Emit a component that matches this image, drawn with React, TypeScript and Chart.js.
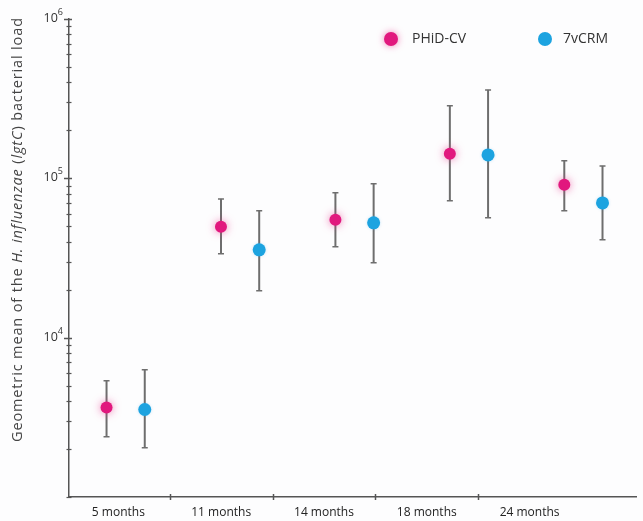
import React, { useEffect, useRef } from "react";
import { Chart, registerables } from "chart.js";

Chart.register(...registerables);

const categories = ["5 months", "11 months", "14 months", "18 months", "24 months"];
const seriesNames = ["PHiD-CV", "7vCRM"];
const seriesColors = ["#e1187e", "#1ca3e0"];

const phidMean = [3640, 49600, 54900, 142500, 91000];
const phidLow = [2390, 33600, 37200, 72300, 62500];
const phidHigh = [5370, 74300, 81100, 285000, 128800];

const crmMean = [3540, 35600, 52600, 140300, 70100];
const crmLow = [2040, 19700, 29500, 56500, 41100];
const crmHigh = [6300, 62500, 92500, 359000, 119700];

const yMajorTicks = [1e4, 1e5, 1e6];
const yMajorExponents = ["4", "5", "6"];

const FONT = "'Open Sans', 'Liberation Sans', sans-serif";
const AXIS_COLOR = "#555";

const bgPlugin = {
  id: "bg",
  beforeDraw(chart: any) {
    const ctx = chart.ctx;
    ctx.save();
    ctx.fillStyle = "#fdfdfe";
    ctx.fillRect(0, 0, chart.width, chart.height);
    ctx.restore();
  },
};

const errorBarPlugin = {
  id: "errorBars",
  beforeDatasetsDraw(chart: any) {
    const ctx = chart.ctx;
    const ys = chart.scales.y;
    ctx.save();
    ctx.strokeStyle = "#6e6e6e";
    chart.data.datasets.forEach((ds: any, di: number) => {
      const meta = chart.getDatasetMeta(di);
      meta.data.forEach((pt: any, i: number) => {
        const lo = ys.getPixelForValue(ds.low[i]);
        const hi = ys.getPixelForValue(ds.high[i]);
        const x = pt.x;
        ctx.lineWidth = 2;
        ctx.beginPath();
        ctx.moveTo(x, lo);
        ctx.lineTo(x, hi);
        ctx.stroke();
        ctx.lineWidth = 1.5;
        ctx.beginPath();
        ctx.moveTo(x - 3, lo);
        ctx.lineTo(x + 3, lo);
        ctx.moveTo(x - 3, hi);
        ctx.lineTo(x + 3, hi);
        ctx.stroke();
      });
    });
    ctx.restore();
  },
  beforeDatasetDraw(chart: any, args: any) {
    const ctx = chart.ctx;
    ctx.save();
    if (args.index === 0) {
      ctx.shadowColor = "rgba(230,40,130,0.6)";
      ctx.shadowBlur = 8;
    } else {
      ctx.shadowColor = "rgba(40,160,230,0.25)";
      ctx.shadowBlur = 3;
    }
  },
  afterDatasetDraw(chart: any) {
    chart.ctx.restore();
  },
};

const axisPlugin = {
  id: "axisDeco",
  afterDraw(chart: any) {
    const ctx = chart.ctx;
    const ys = chart.scales.y;
    const xs = chart.scales.x2;
    const ax = chart.chartArea.left;
    const ay = chart.chartArea.bottom;
    ctx.save();
    ctx.strokeStyle = AXIS_COLOR;
    ys.ticks.forEach((t: any) => {
      const y = Math.round(ys.getPixelForValue(t.value)) + 0.5;
      const major = yMajorTicks.includes(t.value);
      ctx.lineWidth = major ? 1.5 : 1.2;
      ctx.beginPath();
      ctx.moveTo(ax - (major ? 5 : 2.5), y);
      ctx.lineTo(ax + (major ? 3 : 2.5), y);
      ctx.stroke();
    });
    ctx.fillStyle = "#333";
    ctx.textBaseline = "alphabetic";
    ctx.textAlign = "right";
    yMajorTicks.forEach((v, i) => {
      const y = ys.getPixelForValue(v);
      ctx.font = `9px ${FONT}`;
      const ew = ctx.measureText(yMajorExponents[i]).width;
      const right = ax - 6;
      ctx.fillText(yMajorExponents[i], right, y - 4);
      ctx.font = `12.5px ${FONT}`;
      ctx.fillText("10", right - ew, y + 3);
    });
    xs.ticks.forEach((t: any) => {
      if (!Number.isInteger(t.value)) return;
      const x = Math.round(xs.getPixelForValue(t.value)) + 0.5;
      ctx.lineWidth = 1.5;
      ctx.beginPath();
      ctx.moveTo(x, ay - 3);
      ctx.lineTo(x, ay + 3);
      ctx.stroke();
    });
    ctx.restore();
  },
};

const overlayPlugin = {
  id: "overlay",
  afterDraw(chart: any) {
    const ctx = chart.ctx;
    ctx.save();
    const legendX = [391, 545];
    ctx.textBaseline = "middle";
    ctx.font = `14px ${FONT}`;
    seriesNames.forEach((name, i) => {
      ctx.save();
      if (i === 0) {
        ctx.shadowColor = "rgba(230,40,130,0.6)";
        ctx.shadowBlur = 7;
      }
      ctx.fillStyle = seriesColors[i];
      ctx.beginPath();
      ctx.arc(legendX[i], 39, 7, 0, Math.PI * 2);
      ctx.fill();
      ctx.restore();
      ctx.fillStyle = "#333";
      ctx.textAlign = "left";
      ctx.fillText(name, legendX[i] + (i === 0 ? 21 : 18), 39);
    });
    const parts: [string, boolean][] = [
      ["Geometric mean of the ", false],
      ["H. influenzae", true],
      [" (", false],
      ["lgtC", true],
      [") bacterial load", false],
    ];
    const size = 14.5;
    const target = 424;
    const fontFor = (it: boolean) => `${it ? "italic " : ""}${size}px ${FONT}`;
    let natural = 0;
    let nChars = 0;
    parts.forEach(([t, it]) => {
      ctx.font = fontFor(it);
      natural += ctx.measureText(t).width;
      nChars += t.length;
    });
    const extra = Math.max(0, (target - natural) / (nChars - 1));
    ctx.translate(18, 230);
    ctx.rotate(-Math.PI / 2);
    ctx.fillStyle = "#444";
    ctx.textAlign = "left";
    ctx.textBaseline = "middle";
    let x = -target / 2;
    parts.forEach(([t, it]) => {
      ctx.font = fontFor(it);
      for (const ch of t) {
        ctx.fillText(ch, x, 0);
        x += ctx.measureText(ch).width + extra;
      }
    });
    ctx.restore();
  },
};

export default function App() {
  const ref = useRef<HTMLCanvasElement | null>(null);

  useEffect(() => {
    if (!ref.current) return;
    const mk = (mean: number[], off: number) =>
      mean.map((v, i) => ({ x: i + off, y: v }));
    const chart = new Chart(ref.current, {
      type: "scatter",
      data: {
        datasets: [
          {
            label: seriesNames[0],
            data: mk(phidMean, -0.167),
            low: phidLow,
            high: phidHigh,
            backgroundColor: seriesColors[0],
            borderColor: seriesColors[0],
            pointRadius: 6,
            pointBorderWidth: 0,
          } as any,
          {
            label: seriesNames[1],
            data: mk(crmMean, 0.167),
            low: crmLow,
            high: crmHigh,
            backgroundColor: seriesColors[1],
            borderColor: seriesColors[1],
            pointRadius: 6.5,
            pointBorderWidth: 0,
          } as any,
        ],
      },
      options: {
        animation: false,
        responsive: false,
        maintainAspectRatio: false,
        layout: { padding: { top: 19, right: 0, left: 0, bottom: 0 } },
        plugins: {
          legend: { display: false },
          tooltip: { enabled: false },
        },
        scales: {
          x: {
            type: "linear",
            display: false,
            min: -0.495,
            max: 4.464,
          },
          x2: {
            type: "linear",
            position: "bottom",
            min: 0.02,
            max: 5.54,
            afterBuildTicks(scale: any) {
              const t: any[] = [];
              for (let k = 1; k <= 9; k++) t.push({ value: k * 0.5 });
              scale.ticks = t;
            },
            afterFit(scale: any) {
              scale.height = 24;
            },
            border: { display: true, color: AXIS_COLOR, width: 1.5 },
            grid: { drawOnChartArea: false, drawTicks: false },
            ticks: {
              autoSkip: false,
              maxRotation: 0,
              padding: 8,
              color: "#222",
              font: { family: FONT, size: 12 },
              callback: (v: any) => {
                const n = Number(v);
                if (Number.isInteger(n)) return "";
                return categories[Math.round(n - 0.5)];
              },
            },
          },
          y: {
            type: "logarithmic",
            min: 1000,
            max: 1000000,
            afterBuildTicks(scale: any) {
              const t: any[] = [];
              for (let e = 3; e <= 5; e++) {
                for (let m = 1; m <= 9; m++) t.push({ value: m * Math.pow(10, e) });
              }
              t.push({ value: 1e6 });
              scale.ticks = t;
            },
            afterFit(scale: any) {
              scale.width = 69;
            },
            border: { display: true, color: AXIS_COLOR, width: 1.5 },
            grid: { drawOnChartArea: false, drawTicks: false },
            ticks: {
              autoSkip: false,
              callback: () => "",
            },
          },
        },
      },
      plugins: [bgPlugin, errorBarPlugin, axisPlugin, overlayPlugin],
    } as any);
    return () => chart.destroy();
  }, []);

  return (
    <div style={{ position: "fixed", left: 0, top: 0, width: 643, height: 521 }}>
      <canvas ref={ref} width={643} height={521} style={{ width: 643, height: 521 }} />
    </div>
  );
}
